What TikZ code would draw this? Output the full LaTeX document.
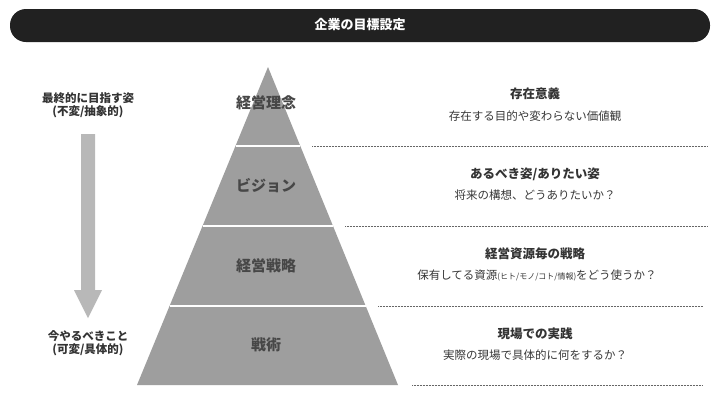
\documentclass[tikz,border=0pt]{standalone}
\usepackage{fontspec}
\setmainfont{Noto Sans CJK JP}
\begin{document}
\begin{tikzpicture}[x=1pt,y=-1pt,
 lbl/.style={font=\fontsize{15}{17}\selectfont\bfseries,text=black!72},
 ttl/.style={font=\fontsize{12.5}{14}\selectfont\bfseries,text=black!80},
 sub/.style={font=\fontsize{11.5}{13}\selectfont,text=black!78},
 side/.style={font=\fontsize{11.5}{13}\selectfont\bfseries,text=black!80,align=center},
 dl/.style={densely dotted,black!60,line width=0.5pt}]
\useasboundingbox (0,0) rectangle (720,405);
\fill[white] (0,0) rectangle (720,405);
\fill[black!87,rounded corners=16pt] (10,9) rectangle (710,42);
\node[text=white,font=\fontsize{13}{15}\selectfont\bfseries] (title) at (360,25) {企業の目標設定};
% pyramid
\fill[black!38] (268,67) -- (398,385) -- (137,385) -- cycle;
\foreach \y/\hw in {146/32.4,226/65.2,306/98}{
 \draw[white,line width=1.2pt] (268-\hw,\y) -- (268+\hw,\y);}
\node[lbl] (p1) at (266,103) {経営理念};
\node[lbl] (p2) at (266,186) {ビジョン};
\node[lbl] (p3) at (266,266) {経営戦略};
\node[lbl] (p4) at (266,345) {戦術};
% dashed lines
\draw[dl] (312,146) -- (707,146);
\draw[dl] (345,226) -- (707,226);
\draw[dl] (378,306) -- (703,306);
\draw[dl] (412,385) -- (703,385);
% right texts
\node[ttl] (t1) at (535,94) {存在意義};
\node[sub] (s1) at (535,116) {存在する目的や変わらない価値観};
\node[ttl] (t2) at (535,174) {あるべき姿/ありたい姿};
\node[sub] (s2) at (535,195) {将来の構想、どうありたいか？};
\node[ttl] (t3) at (535,254) {経営資源毎の戦略};
\node[sub] (s3) at (537,275) {保有してる資源{\fontsize{8}{9}\selectfont(ヒト/モノ/コト/情報)}をどう使うか？};
\node[ttl] (t4) at (535,334) {現場での実践};
\node[sub] (s4) at (535,355) {実際の現場で具体的に何をするか？};
% left
\node[side] (l1) at (88,105) {最終的に目指す姿\\(不変/抽象的)};
\node[side] (l2) at (88,343) {今やるべきこと\\(可変/具体的)};
\fill[black!28] (81,134) -- (95,134) -- (95,290) -- (102,290) -- (88,318) -- (74,290) -- (81,290) -- cycle;
\end{tikzpicture}
\end{document}
